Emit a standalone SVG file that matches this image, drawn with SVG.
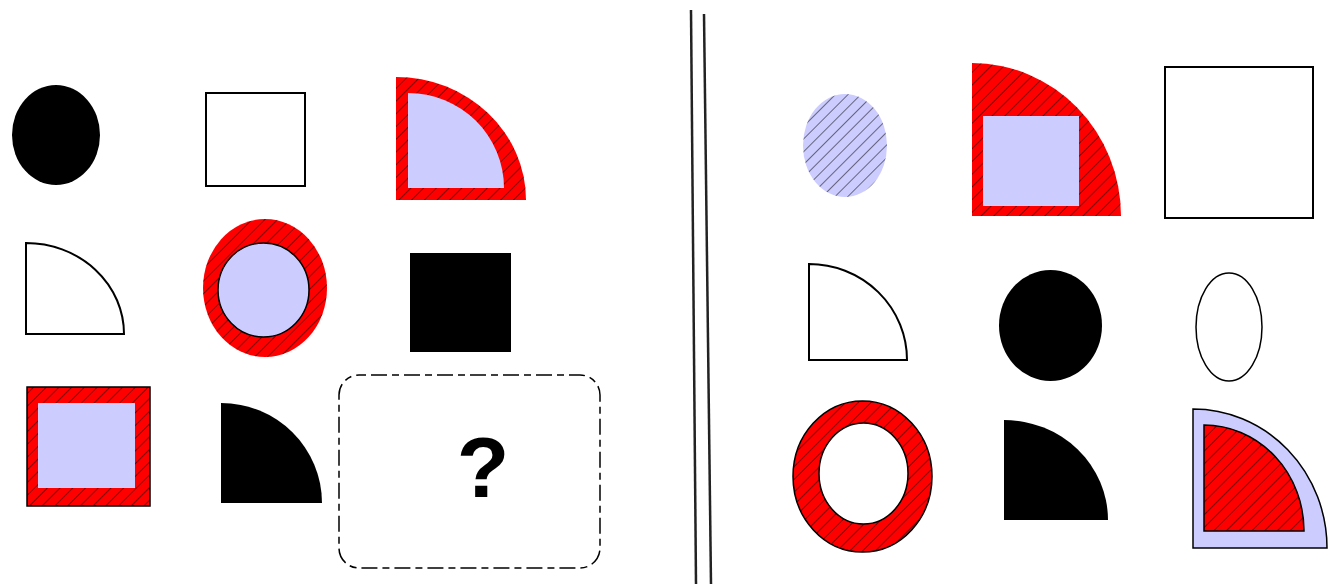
<svg xmlns="http://www.w3.org/2000/svg" width="1338" height="584" viewBox="0 0 1338 584">
<style>
.blk{fill:#000;stroke:none}
.wht{fill:#fff;stroke:#000;stroke-width:2}
.red{fill:#ff0000}
.lav{fill:#ccccff}
.hatch{fill:url(#hatch)}
.ol{fill:none;stroke:#000;stroke-width:1.5}
.div{stroke:#222;stroke-width:2.5;fill:none}
.q{font-family:"Liberation Sans",Arial,sans-serif;font-weight:bold;font-size:86px;fill:#000}
</style>
<defs>
<pattern id="hatch" patternUnits="userSpaceOnUse" width="9" height="9" patternTransform="rotate(45)">
<line x1="0" y1="0" x2="0" y2="9" stroke="#000" stroke-width="1"/>
</pattern>
</defs>
<rect width="1338" height="584" fill="#fff"/>

<g id="divider">
<line class="div" x1="691" y1="10" x2="696" y2="584"/>
<line class="div" x1="704" y1="14" x2="711" y2="584"/>
</g>

<g id="l-ellipse"><ellipse class="blk" cx="56" cy="135" rx="44" ry="50"/></g>
<g id="l-square"><rect class="wht" x="206" y="93" width="99" height="93"/></g>
<g id="l-redquarter">
<path class="red" d="M396,77 A130,123 0 0 1 526,200 L396,200 Z"/>
<path class="hatch" d="M396,77 A130,123 0 0 1 526,200 L396,200 Z"/>
<path class="lav" d="M408,93 A96,95 0 0 1 504,188 L408,188 Z"/>
</g>

<g id="l-quarter"><path class="wht" d="M26,243 A98,91 0 0 1 124,334 L26,334 Z"/></g>
<g id="l-ring">
<ellipse class="red" cx="265" cy="288" rx="62" ry="69"/>
<ellipse class="hatch" cx="265" cy="288" rx="62" ry="69"/>
<ellipse class="lav" cx="263.5" cy="290" rx="45.5" ry="47" stroke="#000" stroke-width="1.5"/>
</g>
<g id="l-blacksquare"><rect class="blk" x="410" y="253" width="101" height="99"/></g>

<g id="l-redsquare">
<rect class="red" x="27" y="387" width="123" height="119"/>
<rect class="hatch" x="27" y="387" width="123" height="119"/>
<rect class="ol" x="27" y="387" width="123" height="119"/>
<rect class="lav" x="38" y="403" width="97" height="85"/>
</g>
<g id="l-blackquarter"><path class="blk" d="M221,403 A101,100 0 0 1 322,503 L221,503 Z"/></g>
<g id="answer">
<rect x="339" y="375" width="261" height="193" rx="20" ry="20" fill="none" stroke="#000" stroke-width="1.5" stroke-dasharray="7,5,16,5"/>
<text class="q" x="483" y="497" text-anchor="middle">?</text>
</g>

<g id="r-ellipse">
<ellipse class="lav" cx="845" cy="145.5" rx="42" ry="51.5"/>
<ellipse class="hatch" cx="845" cy="145.5" rx="42" ry="51.5"/>
</g>
<g id="r-redquarter">
<path class="red" d="M972,63 A149,153 0 0 1 1121,216 L972,216 Z"/>
<path class="hatch" d="M972,63 A149,153 0 0 1 1121,216 L972,216 Z"/>
<rect class="lav" x="983" y="116" width="96" height="90"/>
</g>
<g id="r-square"><rect class="wht" x="1165" y="67" width="148" height="151"/></g>

<g id="r-quarter"><path class="wht" d="M809,264 A98,96 0 0 1 907,360 L809,360 Z"/></g>
<g id="r-circle"><ellipse class="blk" cx="1050.5" cy="325.5" rx="51.5" ry="55.5"/></g>
<g id="r-ellipse2"><ellipse cx="1229" cy="327" rx="33" ry="54" fill="#fff" stroke="#000" stroke-width="1.5"/></g>

<g id="r-ring">
<ellipse class="red" cx="862.5" cy="476.5" rx="69.5" ry="75.5"/>
<ellipse class="hatch" cx="862.5" cy="476.5" rx="69.5" ry="75.5"/>
<ellipse class="ol" cx="862.5" cy="476.5" rx="69.5" ry="75.5"/>
<ellipse cx="863.5" cy="473.5" rx="44.5" ry="50.5" fill="#fff" stroke="#000" stroke-width="1.5"/>
</g>
<g id="r-blackquarter"><path class="blk" d="M1004,420 A104,100 0 0 1 1108,520 L1004,520 Z"/></g>
<g id="r-lavquarter">
<path class="lav" d="M1193,409 A134,139 0 0 1 1327,548 L1193,548 Z" stroke="#000" stroke-width="1.5"/>
<path class="red" d="M1204,425 A100,106 0 0 1 1304,531 L1204,531 Z"/>
<path class="hatch" d="M1204,425 A100,106 0 0 1 1304,531 L1204,531 Z"/>
<path class="ol" d="M1204,425 A100,106 0 0 1 1304,531 L1204,531 Z"/>
</g>
</svg>
